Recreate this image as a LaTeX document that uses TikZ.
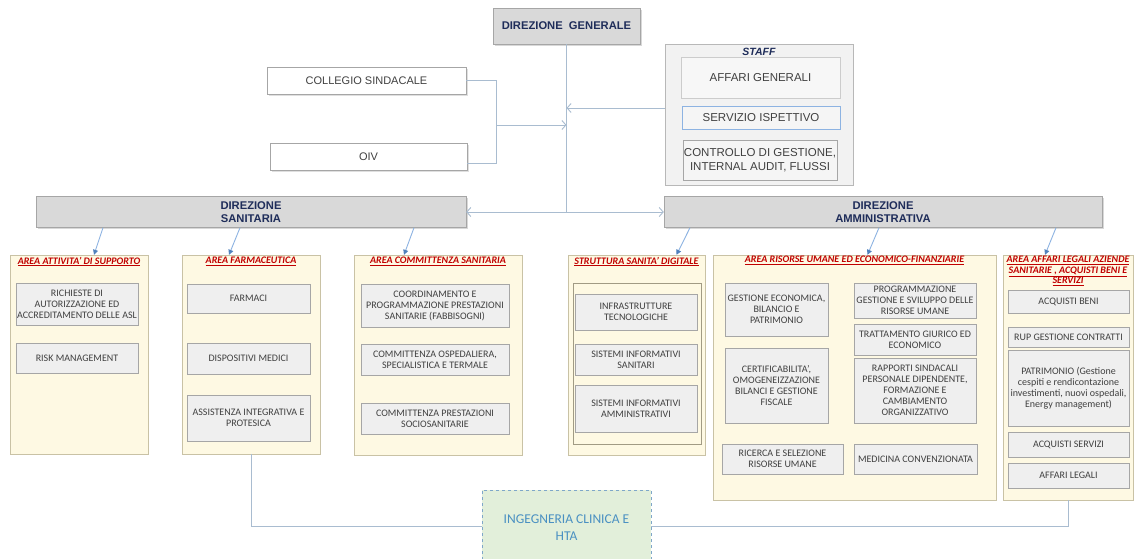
\documentclass[tikz,border=0pt]{standalone}
\usepackage{fontspec}
\setmainfont{Carlito}
\newfontfamily\arialfont{Liberation Sans}
\usetikzlibrary{positioning,arrows.meta,shadows}
\definecolor{navy}{HTML}{1F2D5A}
\definecolor{headfill}{HTML}{D9D9D9}
\definecolor{headline}{HTML}{A6A6A6}
\definecolor{boxtext}{HTML}{404040}
\definecolor{boxfill}{HTML}{EFEFEF}
\definecolor{areafill}{HTML}{FEF9E3}
\definecolor{arealine}{HTML}{C9C2A5}
\definecolor{titlered}{HTML}{C00000}
\definecolor{connline}{HTML}{A9BCD0}
\definecolor{downline}{HTML}{8DB3E2}
\definecolor{downtip}{HTML}{4F81BD}
\definecolor{ingfill}{HTML}{E2EFDA}
\definecolor{ingline}{HTML}{7FA7C9}
\definecolor{ingtext}{HTML}{4A90C2}

\begin{document}
\begin{tikzpicture}[x=1pt, y=-1pt, inner sep=1pt,
    head/.style = {draw=headline, fill=headfill, text=navy, align=center,
        font=\arialfont\bfseries\fontsize{11.2}{13}\selectfont,
        drop shadow={shadow xshift=1.5pt, shadow yshift=-1.5pt, opacity=.3}},
    wbox/.style = {draw=headline, fill=white, text=boxtext,
        font=\arialfont\fontsize{11}{13}\selectfont,
        drop shadow={shadow xshift=1.5pt, shadow yshift=-1.5pt, opacity=.25}},
    sbox/.style = {draw=headline, fill=black!4, text=boxtext, align=center, inner sep=0pt,
        font=\arialfont\fontsize{11.5}{13.5}\selectfont},
    area/.style = {draw=arealine, fill=areafill},
    atitle/.style = {text=titlered, align=center,
        font=\bfseries\itshape\fontsize{10}{10.5}\selectfont},
    ibox/.style = {draw=headline, fill=boxfill, text=boxtext, align=center,
        font=\fontsize{10}{11}\selectfont},
    conn/.style = {draw=connline, line width=0.9pt},
    link/.style = {conn, -{Straight Barb[length=4pt,width=9pt]}},
    down/.style = {draw=downline, line width=0.9pt,
        -{Triangle[length=5pt,width=5pt,fill=downtip,color=downtip]}}]

\fill[white] (0,0) rectangle (1134,558);
\useasboundingbox (0,0) rectangle (1134,558);

% top level
\node (dg) [head, minimum width=147pt, minimum height=36pt] at (566.5,26) {DIREZIONE\ \ GENERALE};
\node (collegio) [wbox, minimum width=199pt, minimum height=27pt] at (366.5,80.5) {COLLEGIO SINDACALE};
\node (oiv) [wbox, minimum width=197pt, minimum height=27pt] at (368.5,156.5) {OIV};

% staff
\node (staff) [draw=headline!80, fill=black!5, minimum width=188pt, minimum height=141pt] at (759,114.5) {};
\node (stafft) [below=3pt of staff.north, text=navy, font=\arialfont\bfseries\itshape\fontsize{10.5}{12}\selectfont] {STAFF};
\node (affgen) [sbox, draw=black!20, fill=black!3, minimum width=159pt, minimum height=41pt] at (760.5,77.5) {AFFARI GENERALI};
\node (ispett) [sbox, draw=downline, minimum width=158pt, minimum height=23pt] at (761,117.5) {SERVIZIO ISPETTIVO};
\node (contr) [sbox, minimum width=154pt, minimum height=40pt] at (760,160) {CONTROLLO DI GESTIONE,\\INTERNAL AUDIT, FLUSSI};

% directions
\node (ds) [head, minimum width=430pt, minimum height=31pt] at (251,212) {DIREZIONE\\SANITARIA};
\node (da) [head, minimum width=438pt, minimum height=31pt] at (883,212) {DIREZIONE\\AMMINISTRATIVA};

\coordinate (j) at (566.5,212);
\coordinate (b) at (496,125);
\draw[conn] (dg) -- (j);
\draw[link] (j) -- (ds);
\draw[link] (j) -- (da);
\draw[conn] (collegio.east) -| (b);
\draw[conn] ([yshift=-6.5pt]oiv.east) -| (b);
\draw[link] (b) -- (b -| dg.south);
\draw[link] ([yshift=6.5pt]staff.west) -- ([yshift=6.5pt]staff.west -| dg.south);

% areas
\node (a1) [area, minimum width=138pt, minimum height=199pt] at (79,354.5) {};
\node (a2) [area, minimum width=138pt, minimum height=199pt] at (251,354.5) {};
\node (a3) [area, minimum width=168pt, minimum height=200pt] at (438,355) {};
\node (a4) [area, minimum width=137pt, minimum height=200pt] at (636.5,355) {};
\node (a5) [area, minimum width=283pt, minimum height=245pt] at (854.5,377.5) {};
\node (a6) [area, minimum width=130pt, minimum height=245pt] at (1068,377.5) {};

\node (t1) [atitle, below=1pt of a1.north] {\underline{AREA ATTIVITA' DI SUPPORTO}};
\node (t2) [atitle, below=1pt of a2.north] {\underline{AREA FARMACEUTICA}};
\node (t3) [atitle, below=1pt of a3.north] {\underline{AREA COMMITTENZA SANITARIA}};
\node (t4) [atitle, below=1pt of a4.north] {\underline{STRUTTURA SANITA' DIGITALE}};
\node (t5) [atitle, below=0pt of a5.north] {\underline{AREA RISORSE UMANE ED ECONOMICO-FINANZIARIE}};
\node (t6) [atitle, below=0pt of a6.north] {\underline{AREA AFFARI LEGALI AZIENDE}\\\underline{SANITARIE , ACQUISTI BENI E}\\\underline{SERVIZI}};

\draw[down] ([xshift=-148pt]ds.south) -- ([xshift=15pt]a1.north);
\draw[down] ([xshift=-11pt]ds.south) -- ([xshift=-22pt]a2.north);
\draw[down] ([xshift=163pt]ds.south) -- ([xshift=-34pt]a3.north);
\draw[down] ([xshift=-193pt]da.south) -- ([xshift=40pt]a4.north);
\draw[down] ([xshift=-4pt]da.south) -- ([xshift=13pt]a5.north);
\draw[down] ([xshift=173pt]da.south) -- ([xshift=-23pt]a6.north);

% area attivita di supporto
\node (richieste) [ibox, minimum width=122pt, minimum height=42pt] at (77,304) {RICHIESTE DI\\AUTORIZZAZIONE ED\\ACCREDITAMENTO DELLE ASL};
\node (risk) [ibox, minimum width=122pt, minimum height=30pt] at (77,358) {RISK MANAGEMENT};

% area farmaceutica
\node (farmaci) [ibox, minimum width=123pt, minimum height=29pt] at (248.5,298.5) {FARMACI};
\node (dispos) [ibox, minimum width=123pt, minimum height=31pt] at (248.5,358.5) {DISPOSITIVI MEDICI};
\node (assist) [ibox, minimum width=123pt, minimum height=46pt] at (248.5,418) {ASSISTENZA INTEGRATIVA E\\PROTESICA};

% area committenza
\node (coord) [ibox, minimum width=148pt, minimum height=43pt] at (435,305.5) {COORDINAMENTO E\\PROGRAMMAZIONE PRESTAZIONI\\SANITARIE (FABBISOGNI)};
\node (osped) [ibox, minimum width=148pt, minimum height=31pt] at (435,359.5) {COMMITTENZA OSPEDALIERA,\\SPECIALISTICA E TERMALE};
\node (socio) [ibox, minimum width=148pt, minimum height=31pt] at (435,418.5) {COMMITTENZA PRESTAZIONI\\SOCIOSANITARIE};

% struttura sanita digitale
\node (frame) [area, draw=arealine!80!black, minimum width=128pt, minimum height=161pt] at (637,363.5) {};
\node (infra) [ibox, minimum width=122pt, minimum height=36pt] at (636,312) {INFRASTRUTTURE\\TECNOLOGICHE};
\node (sissan) [ibox, minimum width=122pt, minimum height=31pt] at (636,359.5) {SISTEMI INFORMATIVI\\SANITARI};
\node (sisamm) [ibox, minimum width=122pt, minimum height=47pt] at (636,408.5) {SISTEMI INFORMATIVI\\AMMINISTRATIVI};

% area risorse umane
\node (gestec) [ibox, minimum width=103pt, minimum height=53pt] at (776.5,309.5) {GESTIONE ECONOMICA,\\BILANCIO E\\PATRIMONIO};
\node (certif) [ibox, minimum width=103pt, minimum height=75pt] at (776.5,385.5) {CERTIFICABILITA',\\OMOGENEIZZAZIONE\\BILANCI E GESTIONE\\FISCALE};
\node (progr) [ibox, minimum width=122pt, minimum height=35pt] at (915,300.5) {PROGRAMMAZIONE\\GESTIONE E SVILUPPO DELLE\\RISORSE UMANE};
\node (tratt) [ibox, minimum width=122pt, minimum height=31pt] at (915,339.5) {TRATTAMENTO GIURICO ED\\ECONOMICO};
\node (rapp) [ibox, minimum width=122pt, minimum height=65pt] at (915,390.5) {RAPPORTI SINDACALI\\PERSONALE DIPENDENTE,\\FORMAZIONE E\\CAMBIAMENTO\\ORGANIZZATIVO};
\node (ricerca) [ibox, minimum width=121pt, minimum height=30pt] at (782.5,459) {RICERCA E SELEZIONE\\RISORSE UMANE};
\node (medic) [ibox, minimum width=123pt, minimum height=30pt] at (915.5,459) {MEDICINA CONVENZIONATA};

% area affari legali
\node (beni) [ibox, minimum width=121pt, minimum height=23pt] at (1068.5,301.5) {ACQUISTI BENI};
\node (rup) [ibox, minimum width=121pt, minimum height=20pt] at (1068.5,337) {RUP GESTIONE CONTRATTI};
\node (patr) [ibox, minimum width=121pt, minimum height=76pt] at (1068.5,388) {PATRIMONIO (Gestione\\cespiti e rendicontazione\\investimenti, nuovi ospedali,\\Energy management)};
\node (servizi) [ibox, minimum width=121pt, minimum height=25pt] at (1068.5,444.5) {ACQUISTI SERVIZI};
\node (legali) [ibox, minimum width=121pt, minimum height=25pt] at (1068.5,475.5) {AFFARI LEGALI};

% ingegneria clinica
\draw[conn] (a2.south) -- ++(0,72) -| (a6.south);
\node (ing) [draw=ingline, dashed, fill=ingfill, text=ingtext, align=center, minimum width=169pt, minimum height=75pt,
    font=\fontsize{13.5}{17}\selectfont] at (566.5,527.5) {INGEGNERIA CLINICA E\\HTA};
\end{tikzpicture}
\end{document}
